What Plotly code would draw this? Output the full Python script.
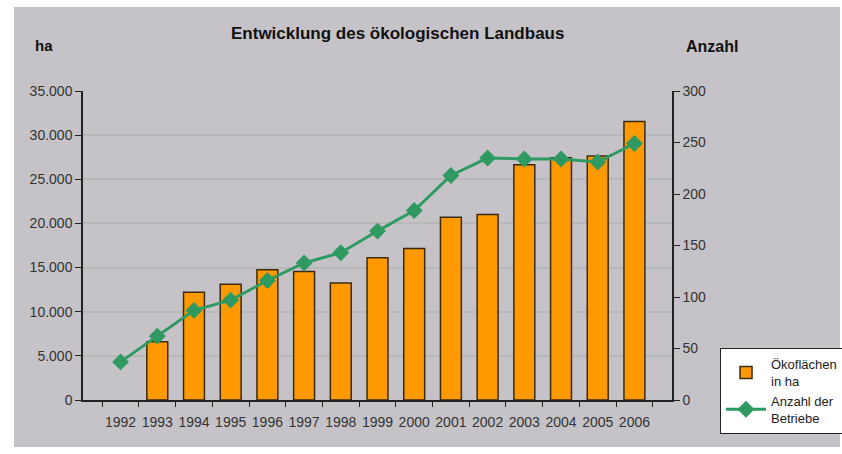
import plotly.graph_objects as go

years = [str(y) for y in range(1992, 2007)]
flaeche_ha = [None, 6600, 12200, 13100, 14750, 14550, 13250, 16100, 17150, 20700, 21000, 26650, 27450, 27650, 31550]
betriebe = [37, 62, 87, 97, 116, 133, 143, 164, 184, 218, 235, 234, 234, 231, 249]

left_ticks = [0, 5000, 10000, 15000, 20000, 25000, 30000, 35000]
right_ticks = [0, 50, 100, 150, 200, 250, 300]

W, H = 842, 454
L, R, T, B = 83, 672, 91, 400

def px(x):
    return (x - L) / (R - L)

def py(y):
    return (B - y) / (B - T)

font_family = "Liberation Sans, Arial, sans-serif"

fig = go.Figure()
fig.add_trace(go.Bar(
    x=years, y=flaeche_ha, name="Ökoflächen<br>in ha",
    marker=dict(color="#ff9900", line=dict(color="#3b2a10", width=1.5)),
    yaxis="y",
))
fig.add_trace(go.Scatter(
    x=years, y=betriebe, name="Anzahl der<br>Betriebe",
    mode="lines+markers",
    line=dict(color="#2e9a62", width=3),
    marker=dict(symbol="diamond", size=13, color="#2e9a62"),
    yaxis="y2",
))

fig.update_layout(
    width=W, height=H,
    margin=dict(l=L, r=W - R, t=T, b=H - B, autoexpand=False),
    paper_bgcolor="white",
    plot_bgcolor="white",
    separators=",.",
    bargap=0.43,
    font=dict(family=font_family, size=14, color="#333333"),
    xaxis=dict(
        type="category", tickson="boundaries", ticks="outside", ticklen=5,
        tickcolor="#222222", showline=True, linecolor="#222222", linewidth=1.5,
        showgrid=False, tickfont=dict(size=14, color="#333333"),
        tickangle=0, mirror=False, ticklabelstandoff=8,
    ),
    yaxis=dict(
        range=[0, 35000], tickvals=left_ticks, tickformat=",.0f",
        ticks="outside", ticklen=6, tickcolor="#222222",
        showline=True, linecolor="#222222", linewidth=1.5,
        gridcolor="#b8b8b8", gridwidth=1.5, zeroline=False,
        tickfont=dict(size=14, color="#333333"),
    ),
    yaxis2=dict(
        range=[0, 300], tickvals=right_ticks, overlaying="y", side="right",
        ticks="outside", ticklen=6, tickcolor="#222222",
        showline=True, linecolor="#222222", linewidth=1.5,
        showgrid=False, zeroline=False,
        tickfont=dict(size=14, color="#333333"),
    ),
    legend=dict(
        x=px(720), y=py(348), xanchor="left", yanchor="top",
        bgcolor="white", bordercolor="#222222", borderwidth=1,
        font=dict(size=13, color="#222222"), tracegroupgap=6,
        itemwidth=40,
    ),
    shapes=[dict(
        type="rect", xref="paper", yref="paper", layer="below",
        x0=px(14), x1=px(840), y0=py(447), y1=py(7),
        fillcolor="#c5c3c7", line=dict(width=0),
    )],
    annotations=[
        dict(text="<b>Entwicklung des ökologischen Landbaus</b>", xref="paper", yref="paper",
             x=px(397), y=py(33), xanchor="center", yanchor="middle", showarrow=False,
             font=dict(size=17, color="#111111", family=font_family)),
        dict(text="<b>ha</b>", xref="paper", yref="paper",
             x=px(44), y=py(45), xanchor="center", yanchor="middle", showarrow=False,
             font=dict(size=15, color="#111111", family=font_family)),
        dict(text="<b>Anzahl</b>", xref="paper", yref="paper",
             x=px(712), y=py(47), xanchor="center", yanchor="middle", showarrow=False,
             font=dict(size=16, color="#111111", family=font_family)),
    ],
)

fig.write_html("out.html", config={"displayModeBar": False},
               post_script="document.body.style.margin='0px';")
